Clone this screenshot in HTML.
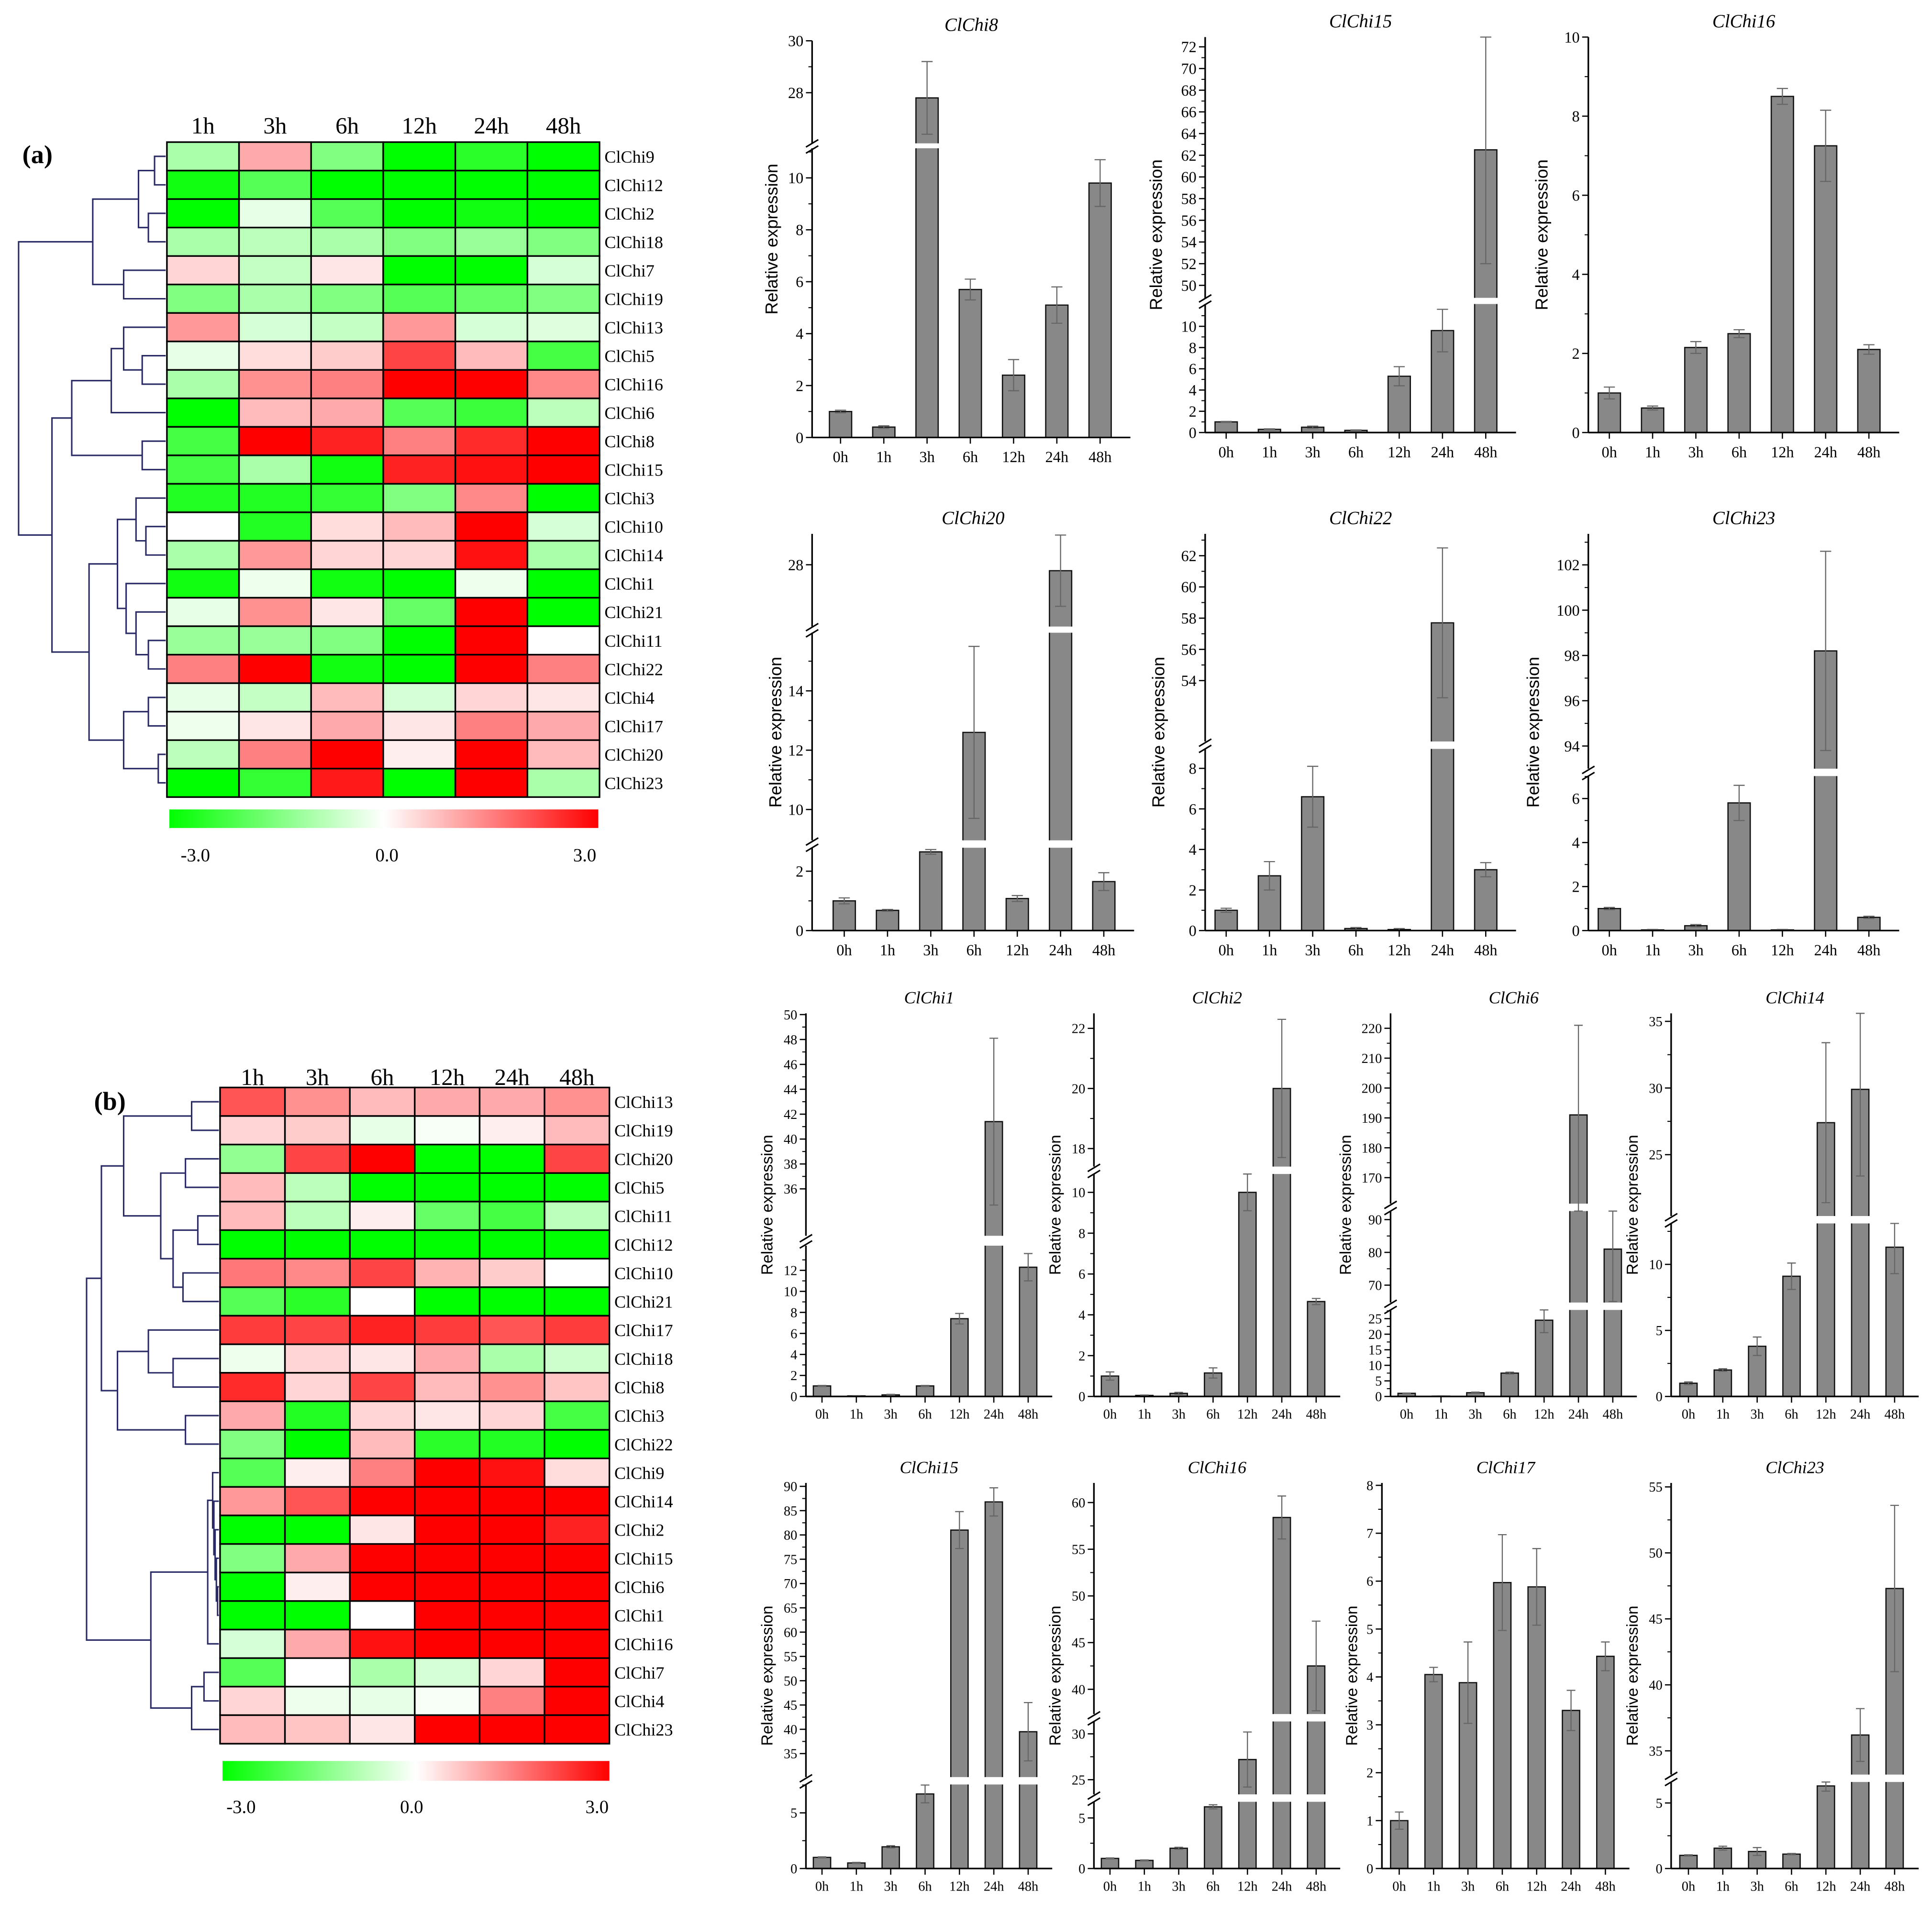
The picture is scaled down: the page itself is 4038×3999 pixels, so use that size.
<!DOCTYPE html>
<html><head><meta charset="utf-8"><style>
html,body{margin:0;padding:0;background:#fff;}
svg{display:block;}
</style></head><body>
<svg id="fig" xmlns="http://www.w3.org/2000/svg" width="4038" height="3999" viewBox="0 0 1563 1548"></svg>
<script>
// ===== Heatmap data =====
const hmCols = ["1h","3h","6h","12h","24h","48h"];
const hmRowsA = ["ClChi9","ClChi12","ClChi2","ClChi18","ClChi7","ClChi19","ClChi13","ClChi5","ClChi16","ClChi6","ClChi8","ClChi15","ClChi3","ClChi10","ClChi14","ClChi1","ClChi21","ClChi11","ClChi22","ClChi4","ClChi17","ClChi20","ClChi23"];
const hmValsA = [
[-1,1,-1.5,-3,-2.5,-3],[-2.8,-2,-3,-3,-3,-3],[-3,-0.3,-2,-3,-2.8,-3],[-1,-0.8,-1,-1.5,-1.2,-1.5],
[0.5,-0.7,0.3,-3,-3,-0.5],[-1.5,-1,-1.5,-2,-1.8,-1.5],[1.2,-0.5,-0.7,1.2,-0.5,-0.4],[-0.3,0.4,0.6,2.2,0.8,-2.2],
[-1,1.3,1.5,3,3,1.4],[-3,0.8,1,-2,-2.3,-0.8],[-2.2,3,2.6,1.5,2.5,3],[-2.2,-1,-2.8,2.6,2.8,3],
[-2.6,-2.6,-2.4,-1.5,1.4,-3],[0,-2.6,0.4,0.8,3,-0.5],[-1,1.2,0.5,0.5,2.8,-1],[-2.8,-0.2,-2.8,-3,-0.2,-3],
[-0.3,1.3,0.3,-1.8,3,-3],[-1.2,-1.2,-1.5,-3,3,0],[1.5,3,-2.8,-3,3,1.5],[-0.3,-0.7,0.8,-0.5,0.5,0.3],
[-0.2,0.3,1,0.3,1.5,1],[-0.8,1.5,3,0.2,3,0.8],[-3,-2.4,2.7,-3,3,-1]];
const hmRowsB = ["ClChi13","ClChi19","ClChi20","ClChi5","ClChi11","ClChi12","ClChi10","ClChi21","ClChi17","ClChi18","ClChi8","ClChi3","ClChi22","ClChi9","ClChi14","ClChi2","ClChi15","ClChi6","ClChi1","ClChi16","ClChi7","ClChi4","ClChi23"];
const hmValsB = [
[2,1.3,0.8,1,1,1.3],[0.5,0.6,-0.3,-0.1,0.2,0.8],[-1.3,2.2,3,-3,-3,2.2],[0.8,-0.8,-3,-3,-3,-3],
[0.8,-0.8,0.2,-1.8,-2.2,-0.8],[-3,-3,-3,-3,-3,-3],[1.6,1.4,2.2,0.9,0.6,0],[-2,-2.5,0,-3,-3,-3],
[2.3,2.2,2.6,2.3,2,2.3],[-0.2,0.5,0.3,1,-1,-0.6],[2.5,0.5,2.2,0.8,1.3,0.7],[1,-2.6,0.5,0.3,0.5,-2.2],
[-1.5,-3,0.8,-2.5,-2.6,-3],[-2,0.2,1.5,3,2.8,0.4],[1.2,2,3,3,3,3],[-3,-3,0.3,3,3,2.6],
[-1.5,1,3,3,3,3],[-3,0.2,3,3,3,3],[-3,-3,0,3,3,3],[-0.5,1,2.8,3,3,3],
[-2,0,-1,-0.5,0.5,3],[0.5,-0.2,-0.3,-0.1,1.5,3],[0.8,0.7,0.3,3,3,3]];

// ===== Bar chart data =====
const cats = ["0h","1h","3h","6h","12h","24h","48h"];
const v_a8=[1.0,0.4,27.8,5.7,2.4,5.1,9.8],      e_a8=[0.05,0.05,1.4,0.4,0.6,0.7,0.9];
const v_a15=[1.0,0.3,0.5,0.2,5.3,9.6,62.5],     e_a15=[0.05,0.05,0.1,0.05,0.9,2.0,10.5];
const v_a16=[1.0,0.62,2.15,2.5,8.5,7.25,2.1],   e_a16=[0.15,0.05,0.15,0.1,0.2,0.9,0.12];
const v_a20=[1.0,0.68,2.65,12.6,1.08,27.8,1.65],e_a20=[0.1,0.03,0.08,2.9,0.1,1.2,0.3];
const v_a22=[1.0,2.7,6.6,0.1,0.05,57.7,3.0],    e_a22=[0.1,0.7,1.5,0.05,0.05,4.8,0.35];
const v_a23=[1.0,0.03,0.22,5.8,0.03,98.2,0.6],  e_a23=[0.05,0.02,0.05,0.8,0.02,4.4,0.05];
const v_b1=[1.0,0.05,0.15,1.0,7.4,41.4,12.3],   e_b1=[0.05,0.02,0.05,0.05,0.5,6.7,1.3];
const v_b2=[1.0,0.05,0.15,1.15,10.0,20.0,4.65], e_b2=[0.2,0.02,0.05,0.25,0.9,2.3,0.15];
const v_b6=[1.0,0.1,1.2,7.5,24.5,191,81],       e_b6=[0.1,0.05,0.2,0.3,4,30,16];
const v_b14=[1.0,2.0,3.8,9.1,27.4,29.9,11.3],   e_b14=[0.1,0.1,0.7,1.0,6,6.5,2];
const v_b15=[1.0,0.5,1.95,6.7,81,86.8,39.5],    e_b15=[0.05,0.05,0.1,0.8,3.8,2.9,6];
const v_b16=[1.0,0.8,2.0,6.1,27.2,58.4,42.5],   e_b16=[0.05,0.05,0.1,0.2,3,2.3,4.8];
const v_b17=[1.0,4.05,3.88,5.97,5.88,3.3,4.43], e_b17=[0.18,0.15,0.85,1,0.8,0.42,0.3];
const v_b23=[1.0,1.55,1.3,1.1,6.3,36.2,47.3],   e_b23=[0.05,0.15,0.3,0.05,0.4,2,6.3];
const t_a8=[[0,2,4,6,8,10],[28,30]];
const t_a15=[[0,2,4,6,8,10],[50,52,54,56,58,60,62,64,66,68,70,72]];
const t_a16=[[0,2,4,6,8,10]];
const t_a20=[[0,2],[10,12,14],[28]];
const t_a22=[[0,2,4,6,8],[54,56,58,60,62]];
const t_a23=[[0,2,4,6],[94,96,98,100,102]];
const t_b1=[[0,2,4,6,8,10,12],[36,38,40,42,44,46,48,50]];
const t_b2=[[0,2,4,6,8,10],[18,20,22]];
const t_b6=[[0,5,10,15,20,25],[70,80,90],[170,180,190,200,210,220]];
const t_b14=[[0,5,10],[25,30,35]];
const t_b15=[[0,5],[35,40,45,50,55,60,65,70,75,80,85,90]];
const t_b16=[[0,5],[25,30],[40,45,50,55,60]];
const t_b17=[[0,1,2,3,4,5,6,7,8]];
const t_b23=[[0,5],[35,40,45,50,55]];

const NS="http://www.w3.org/2000/svg";
const svg=document.getElementById('fig');
function mk(tag,attrs,parent,text){const e=document.createElementNS(NS,tag);for(const k in attrs)e.setAttribute(k,attrs[k]);if(text!==undefined)e.textContent=text;(parent||svg).appendChild(e);return e;}
const SERIF='"Liberation Serif", serif', SANS='"Liberation Sans", sans-serif';

function hmColor(v){const t=Math.min(1,Math.abs(v)/3);const c=Math.round(255*(1-t));return v>=0?`rgb(255,${c},${c})`:`rgb(${c},255,${c})`;}

function heatmap(id,rows,vals,x0,y0,w,h,hdrY,labFs,cb,tree,treeLeft){
  const g=mk('g',{},svg);
  
  
  const cw=w/hmCols.length, rh=h/rows.length;
  hmCols.forEach((c,j)=>{const t=mk('text',{x:x0+cw*(j+0.5),y:hdrY,'text-anchor':'middle','font-family':SERIF,'font-size':19},g,c);
    
    });
  rows.forEach((r,i)=>{
    vals[i].forEach((v,j)=>{const rc=mk('rect',{x:x0+cw*j,y:y0+rh*i,width:cw,height:rh,fill:hmColor(v),stroke:'#000','stroke-width':1.3},g);
      
      });
    const t=mk('text',{x:x0+w+4,y:y0+rh*(i+0.5)+5,'font-family':SERIF,'font-size':labFs},g,r);
    
    
  });
  const gid='grad'+id;
  const defs=mk('defs',{},g);const lg=mk('linearGradient',{id:gid,x1:0,x2:1,y1:0,y2:0},defs);
  mk('stop',{offset:'0','stop-color':'#00ff00'},lg);mk('stop',{offset:'0.5','stop-color':'#ffffff'},lg);mk('stop',{offset:'1','stop-color':'#ff0000'},lg);
  const cbr=mk('rect',{x:cb.x,y:cb.y,width:cb.w,height:cb.h,fill:`url(#${gid})`},g);
  
  
  [["-3.0",cb.l1],["0.0",cb.l2],["3.0",cb.l3]].forEach(([s,x])=>{const t=mk('text',{x:x,y:cb.ly,'text-anchor':'middle','font-family':SERIF,'font-size':15},g,s);
    
    });
  const dg=mk('g',{stroke:'#2a2a66','stroke-width':1.2,fill:'none'},g);
  
  
  function draw(n){ if(typeof n==='number') return {x:x0-1,y:y0+rh*(n+0.5)};
    const a=draw(n[1]),b=draw(n[2]);const x=n[0];
    mk('path',{d:`M${a.x},${a.y}H${x}V${b.y}H${b.x}`},dg);
    return {x:x,y:(a.y+b.y)/2}; }
  const r=draw(tree);
  mk('path',{d:`M${r.x},${r.y}H${treeLeft}`},dg);
}
const treeA=[15,
 [75,[112,[125,0,1],[120,2,3]],[100,4,5]],
 [42,[58,[90,[100,6,[115,7,8]],9],[115,10,11]],
   [72,[95,[110,12,[118,13,14]],[102,15,[110,16,[120,17,18]]]],[100,[120,19,20],[128,21,22]]]]];
const treeB=[70,
 [82,[100,[155,0,1],[130,[150,2,3],[140,[160,4,5],[148,6,7]]]],[95,[120,8,[140,9,10]],[150,11,12]]],
 [122,[168,[172,13,[173,14,[174,15,[175,16,[176,17,18]]]]],19],[155,[165,20,21],22]]];

heatmap('a',hmRowsA,hmValsA,135,115,350,530,108,14,{x:137,y:655,w:347,h:15,l1:158,l2:313,l3:473,ly:697},treeA,15);
heatmap('b',hmRowsB,hmValsB,178,880,315,531,878,14,{x:180,y:1425,w:313,h:16,l1:195,l2:333,l3:483,ly:1467},treeB,70);
const la=mk('text',{x:18,y:132,'font-family':SERIF,'font-size':21,'font-weight':'bold'},svg,'(a)');

const lb=mk('text',{x:76,y:898,'font-family':SERIF,'font-size':21,'font-weight':'bold'},svg,'(b)');


// ===== Bar panels =====
function barPanel(o){
  const g=mk('g',{},svg);
  
  
  const segs=o.segs, x0=o.ax, n=cats.length;
  const xs=cats.map((c,i)=>o.cx0+o.dx*i);
  const xEnd=xs[n-1]+o.dx*0.7;
  function yOf(v){
    for(const s of segs){ if(v>=s[2]&&v<=s[3]) return s[0]-(v-s[2])*(s[0]-s[1])/(s[3]-s[2]); }
    for(let k=segs.length-1;k>=0;k--){ if(v>segs[k][3]) return segs[k][1]; }
    return segs[0][0]; }
  o.vals.forEach((v,i)=>{
    segs.forEach(s=>{ if(v>s[2]){ const top=Math.min(v,s[3]);
      const y1=s[0]-(top-s[2])*(s[0]-s[1])/(s[3]-s[2]);
      const xl=xs[i]-o.bw/2, xr=xs[i]+o.bw/2;
      const r=mk('rect',{x:xl,y:y1,width:o.bw,height:s[0]-y1,fill:'#888'},g);
      
      
      const d = v<=s[3] ? `M${xl},${s[0]}V${y1}H${xr}V${s[0]}` : `M${xl},${s[0]}V${y1}M${xr},${y1}V${s[0]}`;
      mk('path',{d:d,stroke:'#111','stroke-width':1,fill:'none'},g); }});
    const e=o.errs[i], yt=yOf(v+e), yb=yOf(Math.max(0,v-e)), cw=o.bw*0.25;
    const eb=mk('path',{d:`M${xs[i]},${yt}V${yb}M${xs[i]-cw},${yt}H${xs[i]+cw}M${xs[i]-cw},${yb}H${xs[i]+cw}`,stroke:'#666','stroke-width':0.9,fill:'none'},g);
    
    
  });
  const base=segs[0][0];
  const xa=mk('path',{d:`M${x0},${base}H${xEnd}`,stroke:'#000','stroke-width':1.3},g);
  
  xs.forEach((x,i)=>{mk('path',{d:`M${x},${base}V${base+5}`,stroke:'#000','stroke-width':1},g);
    const t=mk('text',{x:x,y:base+o.xlOff,'text-anchor':'middle','font-family':SERIF,'font-size':o.fs},g,cats[i]);
    });
  segs.forEach((s,k)=>{
    const ya=mk('path',{d:`M${x0},${s[0]}V${s[1]}`,stroke:'#000','stroke-width':1.3},g);
    
    const ticks=o.ticks[k];
    ticks.forEach(tv=>{const y=s[0]-(tv-s[2])*(s[0]-s[1])/(s[3]-s[2]);
      mk('path',{d:`M${x0},${y}H${x0-5}`,stroke:'#000','stroke-width':1},g);
      const t=mk('text',{x:x0-7,y:y+o.fs*0.35,'text-anchor':'end','font-family':SERIF,'font-size':o.fs},g,String(tv));
      });
    if(ticks.length>1){const st=(ticks[1]-ticks[0])/2;for(let tv=ticks[0]+st;tv<s[3];tv+=2*st){if(tv<s[2])continue;const y=s[0]-(tv-s[2])*(s[0]-s[1])/(s[3]-s[2]);mk('path',{d:`M${x0},${y}H${x0-3}`,stroke:'#000','stroke-width':0.8},g);}}
    if(k>0){const ym=(segs[k-1][1]+s[0])/2;
      const bk=mk('path',{d:`M${x0-5},${ym+1}L${x0+5},${ym-5}M${x0-5},${ym+6}L${x0+5},${ym}`,stroke:'#000','stroke-width':1.2,fill:'none'},g);
      }
  });
  const tt=mk('text',{x:(x0+xEnd)/2,y:segs[segs.length-1][1]-8,'text-anchor':'middle','font-family':SERIF,'font-size':o.tfs,'font-style':'italic'},g,o.title);
  
  const yl=(base+segs[segs.length-1][1])/2;
  const ylab=mk('text',{x:o.ylx,y:yl,'text-anchor':'middle','font-family':SANS,'font-size':o.yfs,transform:`rotate(-90 ${o.ylx} ${yl})`},g,'Relative expression');
  
}
const A={dx:35,bw:18,fs:12.5,tfs:15,yfs:14,xlOff:20};
const B={dx:27.8,bw:14,fs:11,tfs:14,yfs:13,xlOff:18};
barPanel({...A,title:'ClChi8',ax:657,cx0:680,vals:v_a8,errs:e_a8,ticks:t_a8,segs:[[354,120,0,11.14],[116,33,26.05,30]],ylx:629});
barPanel({...A,title:'ClChi15',ax:975,cx0:992,vals:v_a15,errs:e_a15,ticks:t_a15,segs:[[350,246,0,12.1],[241,30,48.85,72.9]],ylx:940});
barPanel({...A,title:'ClChi16',ax:1285,cx0:1302,vals:v_a16,errs:e_a16,ticks:t_a16,segs:[[350,30,0,10]],ylx:1252});
barPanel({...A,title:'ClChi20',ax:657,cx0:683,vals:v_a20,errs:e_a20,ticks:t_a20,segs:[[753,686,0,2.79],[680,512,8.96,15.96],[507,432,25.92,29.04]],ylx:632});
barPanel({...A,title:'ClChi22',ax:975,cx0:992,vals:v_a22,errs:e_a22,ticks:t_a22,segs:[[753,606,0,8.96],[600,432,50.1,63.4]],ylx:942});
barPanel({...A,title:'ClChi23',ax:1285,cx0:1302,vals:v_a23,errs:e_a23,ticks:t_a23,segs:[[753,628,0,7.02],[622,432,93.0,103.37]],ylx:1245});
barPanel({...B,title:'ClChi1',ax:652,cx0:665,vals:v_b1,errs:e_b1,ticks:t_b1,segs:[[1130,1008,0,14.35],[1000,820,32.23,50.1]],ylx:625});
barPanel({...B,title:'ClChi2',ax:885,cx0:898,vals:v_b2,errs:e_b2,ticks:t_b2,segs:[[1130,950,0,10.9],[944,820,17.4,22.5]],ylx:858});
barPanel({...B,title:'ClChi6',ax:1125,cx0:1138,vals:v_b6,errs:e_b6,ticks:t_b6,segs:[[1130,1060,0,27.8],[1054,980,64.7,92.6],[974,820,161.3,225]],ylx:1093});
barPanel({...B,title:'ClChi14',ax:1352,cx0:1366,vals:v_b14,errs:e_b14,ticks:t_b14,segs:[[1130,990,0,13.1],[984,820,20.4,35.6]],ylx:1325});
barPanel({...B,title:'ClChi15',ax:652,cx0:665,vals:v_b15,errs:e_b15,ticks:t_b15,segs:[[1512,1444,0,7.55],[1438,1200,30.17,90.7]],ylx:625});
barPanel({...B,title:'ClChi16',ax:885,cx0:898,vals:v_b16,errs:e_b16,ticks:t_b16,segs:[[1512,1458,0,6.6],[1452,1393,23.4,31.35],[1387,1200,37.35,62.1]],ylx:858});
barPanel({...B,title:'ClChi17',ax:1118,cx0:1132,vals:v_b17,errs:e_b17,ticks:t_b17,segs:[[1512,1200,0,8.05]],ylx:1098});
barPanel({...B,title:'ClChi23',ax:1352,cx0:1366,vals:v_b23,errs:e_b23,ticks:t_b23,segs:[[1512,1442,0,6.6],[1436,1200,33.2,55.3]],ylx:1325});
</script>
</body></html>
